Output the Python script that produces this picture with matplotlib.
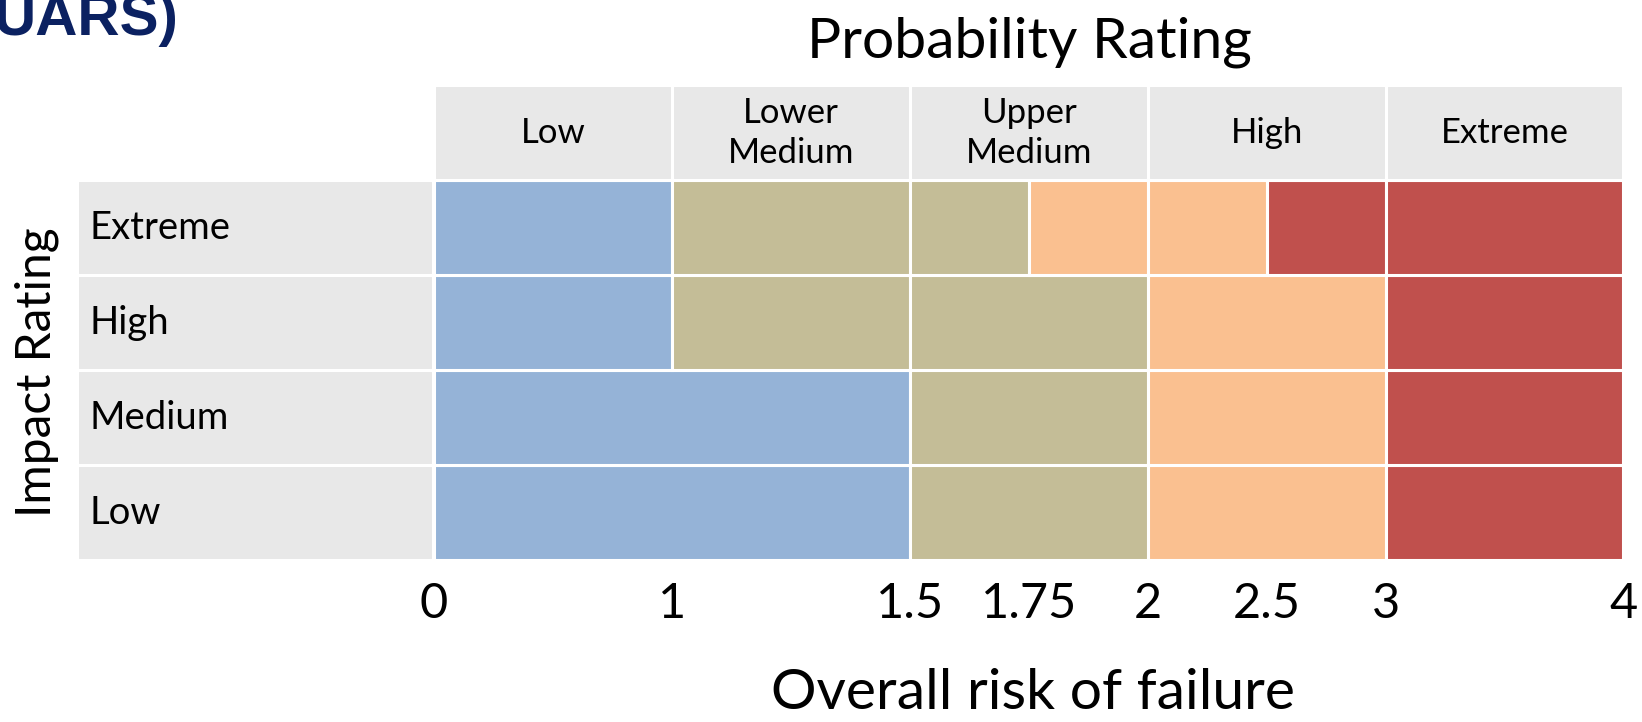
import numpy as np
import matplotlib
matplotlib.use("Agg")
import matplotlib.pyplot as plt

plt.rcParams['font.family'] = ['Lato', 'DejaVu Sans']

# probability columns and the risk value at each column edge
prob_labels = ["Low", "Lower\nMedium", "Upper\nMedium", "High", "Extreme"]
prob_edges = [0, 1, 1.5, 2, 3, 4]

impact_labels = ["Low", "Medium", "High", "Extreme"]   # bottom to top

# cell edges (overall risk) and risk level of each cell, per impact row
row_edges = [
    [0, 1.5, 2, 3, 4],
    [0, 1.5, 2, 3, 4],
    [0, 1, 1.5, 2, 3, 4],
    [0, 1, 1.5, 1.75, 2, 2.5, 3, 4],
]
row_levels = [
    [0, 1, 2, 3],
    [0, 1, 2, 3],
    [0, 1, 1, 2, 3],
    [0, 1, 1, 2, 2, 3, 3],
]
level_colors = ["#95B3D7", "#C4BD97", "#FAC090", "#C0504D"]
header_gray = "#E8E8E8"

risk_ticks = [0, 1, 1.5, 1.75, 2, 2.5, 3, 4]
tick_labels = ["0", "1", "1.5", "1.75", "2", "2.5", "3", "4"]

cols = np.arange(len(prob_edges))


def fwd(x):
    return np.interp(x, prob_edges, cols)


def inv(c):
    return np.interp(c, cols, prob_edges)


fig = plt.figure(figsize=(16.42, 7.22), dpi=100)
ax = fig.add_axes([0.2643, 0.2244, 0.7244, 0.6572])
ax_lab = fig.add_axes([0.0469, 0.2244, 0.2168, 0.6572])

ax.set_xscale('function', functions=(fwd, inv))
ax.set_xlim(prob_edges[0], prob_edges[-1])
ax.set_ylim(-0.5, len(impact_labels) + 0.5)

gap = 2.2
for r, (edges, levels) in enumerate(zip(row_edges, row_levels)):
    e = np.array(edges)
    ax.barh(r, e[1:] - e[:-1], left=e[:-1], height=1,
            color=[level_colors[l] for l in levels],
            edgecolor="white", linewidth=gap)

# header row
pe = np.array(prob_edges)
hy = len(impact_labels)
ax.barh(hy, pe[1:] - pe[:-1], left=pe[:-1], height=1,
        color=header_gray, edgecolor="white", linewidth=gap)
for i, lab in enumerate(prob_labels):
    xc = inv(i + 0.5)
    ax.text(xc, hy, lab, ha="center", va="center", fontsize=25,
            linespacing=1.3, color="black")

ax.set_yticks([])
ax.set_xticks(risk_ticks)
ax.set_xticklabels(tick_labels, fontsize=35)
ax.xaxis.set_minor_locator(matplotlib.ticker.NullLocator())
ax.tick_params(axis="x", length=0, pad=16)
for s in ax.spines.values():
    s.set_visible(False)

# impact label column
ax_lab.set_xlim(0, 1)
ax_lab.set_ylim(-0.5, len(impact_labels) + 0.5)
ax_lab.barh(range(len(impact_labels)), 1, height=1, color=header_gray,
            edgecolor="white", linewidth=gap)
for r, lab in enumerate(impact_labels):
    ax_lab.text(0.035, r, lab, ha="left", va="center", fontsize=27.5)
ax_lab.axis("off")

fig.text(0.627, 0.942, "Probability Rating", ha="center", va="center",
         fontsize=41)
fig.text(0.629, 0.040, "Overall risk of failure", ha="center", va="center",
         fontsize=41)
fig.text(0.0223, 0.485, "Impact Rating", ha="center", va="center",
         rotation=90, fontsize=34.5)
fig.text(0.1085, 0.952, "UARS)", ha="right", va="baseline", fontsize=42,
         fontweight="bold", family="Liberation Sans", color="#0B2161")

fig.savefig("out.png", dpi=100)
